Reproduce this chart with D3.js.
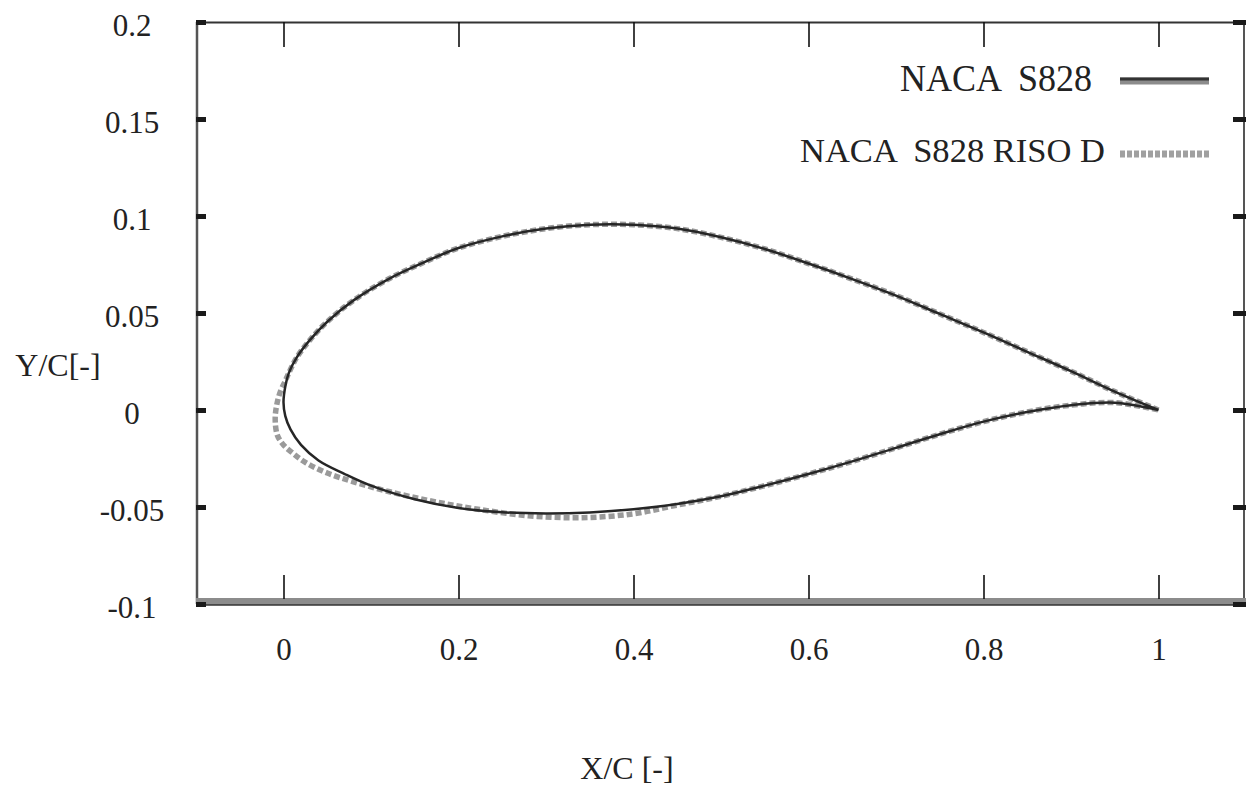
<!DOCTYPE html>
<html>
<head>
<meta charset="utf-8">
<script src="https://cdn.jsdelivr.net/npm/d3@7"></script>
<style>
  html, body { margin: 0; padding: 0; background: #fff; }
  svg { display: block; }
  text { font-family: "Liberation Serif", "Times New Roman", serif; fill: #222; }
</style>
</head>
<body>
<svg id="chart" width="1247" height="787"></svg>
<script>
// ---- Data ----
const xTicks = [0, 0.2, 0.4, 0.6, 0.8, 1];
const xTickLabels = ["0", "0.2", "0.4", "0.6", "0.8", "1"];
const yTicks = [-0.1, -0.05, 0, 0.05, 0.1, 0.15, 0.2];
const yTickLabels = ["-0.1", "-0.05", "0", "0.05", "0.1", "0.15", "0.2"];

// NACA S828 — upper surface (LE -> TE)
const s828UpperX = [0, 0.002, 0.006, 0.015, 0.03, 0.05, 0.08, 0.12, 0.16, 0.2, 0.25, 0.3, 0.35, 0.4, 0.45, 0.5, 0.55, 0.6, 0.65, 0.7, 0.75, 0.8, 0.85, 0.9, 0.95, 1.0];
const s828UpperY = [0.004, 0.012, 0.019, 0.027, 0.036, 0.0455, 0.0565, 0.0675, 0.076, 0.0835, 0.0895, 0.0935, 0.0955, 0.0955, 0.0935, 0.089, 0.083, 0.0755, 0.0675, 0.059, 0.0495, 0.040, 0.030, 0.020, 0.0095, 0.0];
// NACA S828 — lower surface (LE -> TE)
const s828LowerX = [0, 0.002, 0.008, 0.02, 0.04, 0.07, 0.1, 0.15, 0.2, 0.25, 0.3, 0.35, 0.4, 0.45, 0.5, 0.55, 0.6, 0.65, 0.7, 0.75, 0.8, 0.85, 0.9, 0.95, 1.0];
const s828LowerY = [0.004, -0.003, -0.010, -0.018, -0.026, -0.033, -0.039, -0.046, -0.0505, -0.0527, -0.0533, -0.0528, -0.0512, -0.0485, -0.0445, -0.039, -0.033, -0.0265, -0.0195, -0.0125, -0.006, -0.001, 0.0025, 0.0038, 0.0];

// NACA S828 RISO D — upper surface (LE -> TE)
const risoUpperX = [-0.008, -0.004, 0.002, 0.006, 0.015, 0.03, 0.05, 0.08, 0.12, 0.16, 0.2, 0.25, 0.3, 0.35, 0.4, 0.45, 0.5, 0.55, 0.6, 0.65, 0.7, 0.75, 0.8, 0.85, 0.9, 0.95, 1.0];
const risoUpperY = [0.002, 0.009, 0.015, 0.019, 0.027, 0.036, 0.0455, 0.0565, 0.0675, 0.076, 0.0835, 0.0895, 0.0935, 0.0955, 0.0955, 0.0935, 0.089, 0.083, 0.0755, 0.0675, 0.059, 0.0495, 0.040, 0.030, 0.020, 0.0095, 0.0];
// NACA S828 RISO D — lower surface (LE -> TE)
const risoLowerX = [-0.008, -0.0095, -0.007, 0.0, 0.01, 0.025, 0.05, 0.08, 0.12, 0.17, 0.22, 0.28, 0.34, 0.4, 0.45, 0.5, 0.55, 0.6, 0.65, 0.7, 0.75, 0.8, 0.85, 0.9, 0.95, 1.0];
const risoLowerY = [0.002, -0.005, -0.013, -0.018, -0.022, -0.027, -0.0325, -0.037, -0.042, -0.047, -0.051, -0.0545, -0.0555, -0.0535, -0.049, -0.0445, -0.039, -0.033, -0.0265, -0.0195, -0.0125, -0.006, -0.001, 0.0025, 0.0038, 0.0];

const legendLabels = ["NACA  S828", "NACA  S828 RISO D"];
const axisTitles = { x: "X/C [-]", y: "Y/C[-]" };

// ---- Chart ----
const svg = d3.select("#chart");
const x = d3.scaleLinear().domain([-0.1, 1.1]).range([196, 1246]);
const y = d3.scaleLinear().domain([-0.1, 0.2]).range([604, 22]);

const zip = (xs, ys) => xs.map((v, i) => [v, ys[i]]);
const s828 = zip(s828UpperX, s828UpperY).slice().reverse().concat(zip(s828LowerX, s828LowerY).slice(1));
const riso = zip(risoUpperX, risoUpperY).slice().reverse().concat(zip(risoLowerX, risoLowerY).slice(1));

const line = d3.line().x(d => x(d[0])).y(d => y(d[1])).curve(d3.curveCatmullRom.alpha(0.5));

// Curves
svg.append("path").datum(riso)
  .attr("d", line).attr("fill", "none")
  .attr("stroke", "#9a9a9a").attr("stroke-width", 5.5)
  .attr("stroke-dasharray", "6,3");
svg.append("path").datum(s828)
  .attr("d", line).attr("fill", "none")
  .attr("stroke", "#262626").attr("stroke-width", 2.5);

// Frame
const [x0, x1] = x.range();
const [yb, yt] = y.range();
svg.append("line").attr("x1", x0).attr("x2", x1).attr("y1", yt + 0.5).attr("y2", yt + 0.5)
  .attr("stroke", "#333").attr("stroke-width", 2);
svg.append("line").attr("x1", x0 + 1).attr("x2", x0 + 1).attr("y1", yt).attr("y2", yb)
  .attr("stroke", "#555").attr("stroke-width", 2.5);
svg.append("line").attr("x1", x1 - 2).attr("x2", x1 - 2).attr("y1", yt).attr("y2", yb)
  .attr("stroke", "#555").attr("stroke-width", 2);
svg.append("rect").attr("x", x0).attr("y", yb - 6).attr("width", x1 - x0).attr("height", 7)
  .attr("fill", "#8c8c8c");
svg.append("line").attr("x1", x0).attr("x2", x1).attr("y1", yb + 1).attr("y2", yb + 1)
  .attr("stroke", "#333").attr("stroke-width", 1.5);

// Bottom axis (ticks inward + labels)
const gB = svg.append("g").attr("transform", `translate(0,${yb - 5})`)
  .call(d3.axisBottom(x).tickValues(xTicks).tickSize(-24).tickPadding(39)
    .tickFormat((d, i) => xTickLabels[i]));
gB.select(".domain").remove();
gB.selectAll(".tick line").attr("stroke", "#111").attr("stroke-width", 1.6);
gB.selectAll(".tick text").attr("font-size", 31).attr("fill", "#222");

// Top axis (ticks only)
const gT = svg.append("g").attr("transform", `translate(0,${yt})`)
  .call(d3.axisTop(x).tickValues(xTicks).tickSize(-25).tickFormat(""));
gT.select(".domain").remove();
gT.selectAll(".tick line").attr("stroke", "#111").attr("stroke-width", 1.6);

// Left axis
const gL = svg.append("g").attr("transform", `translate(${x0},0)`)
  .call(d3.axisLeft(y).tickValues(yTicks).tickSize(-10).tickPadding(64)
    .tickFormat((d, i) => yTickLabels[i]));
gL.select(".domain").remove();
gL.selectAll(".tick line").attr("stroke", "#1a1a1a").attr("stroke-width", 5);
gL.selectAll(".tick text").attr("font-size", 31).attr("fill", "#222")
  .attr("text-anchor", "middle").attr("dy", "0.45em");

// Right axis (ticks only)
const gR = svg.append("g").attr("transform", `translate(${x1},0)`)
  .call(d3.axisRight(y).tickValues(yTicks).tickSize(-13).tickFormat(""));
gR.select(".domain").remove();
gR.selectAll(".tick line").attr("stroke", "#1a1a1a").attr("stroke-width", 5);

// Axis titles
svg.append("text").attr("x", 58).attr("y", 376).attr("text-anchor", "middle")
  .attr("font-size", 32).text(axisTitles.y);
svg.append("text").attr("x", 627).attr("y", 779).attr("text-anchor", "middle")
  .attr("font-size", 32).text(axisTitles.x);

// Legend
const lg = svg.append("g");
lg.append("text").attr("x", 900).attr("y", 91).attr("font-size", 38)
  .attr("textLength", 192).attr("lengthAdjust", "spacingAndGlyphs")
  .style("white-space", "pre").text(legendLabels[0]);
lg.append("line").attr("x1", 1120).attr("x2", 1209).attr("y1", 81).attr("y2", 81)
  .attr("stroke", "#8c8c8c").attr("stroke-width", 7);
lg.append("line").attr("x1", 1120).attr("x2", 1209).attr("y1", 79).attr("y2", 79)
  .attr("stroke", "#333").attr("stroke-width", 3);
lg.append("text").attr("x", 800).attr("y", 162).attr("font-size", 33)
  .attr("textLength", 305).attr("lengthAdjust", "spacingAndGlyphs")
  .style("white-space", "pre").text(legendLabels[1]);
lg.append("line").attr("x1", 1120).attr("x2", 1209).attr("y1", 154).attr("y2", 154)
  .attr("stroke", "#a0a0a0").attr("stroke-width", 7).attr("stroke-dasharray", "5,2");
</script>
</body>
</html>
